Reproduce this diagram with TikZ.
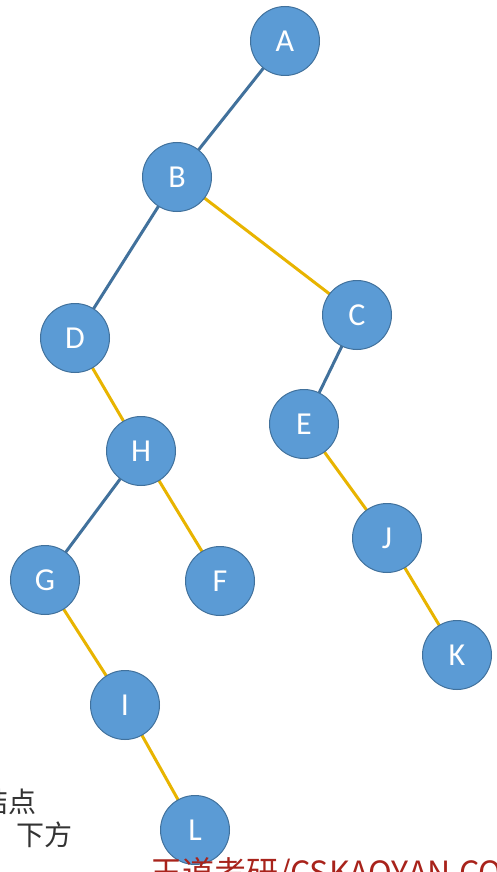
\documentclass[tikz,border=0pt]{standalone}
\usepackage{fontspec}
\setmainfont{Carlito}
\newfontfamily\cjk{Noto Sans CJK SC}
\definecolor{nodefill}{HTML}{5B9BD5}
\definecolor{nodeline}{HTML}{41719C}
\definecolor{blueedge}{HTML}{41719C}
\definecolor{goldedge}{HTML}{E8B400}
\definecolor{wmred}{HTML}{A8231B}
\begin{document}
\begin{tikzpicture}[x=1pt,y=-1pt,
  tnode/.style={circle,fill=nodefill,draw=nodeline,line width=1pt,minimum size=69pt,inner sep=0pt,text=white,font=\fontsize{32}{32}\selectfont},
  bedge/.style={draw=blueedge,line width=3pt},
  gedge/.style={draw=goldedge,line width=3pt}]
\useasboundingbox (0,0) rectangle (496,872);
\clip (0,0) rectangle (496,872);
\fill[white] (0,0) rectangle (496,872);
% edges first
\coordinate (pA) at (285,41);
\coordinate (pB) at (177,177);
\coordinate (pC) at (357,315);
\coordinate (pD) at (75,338);
\coordinate (pE) at (304,424);
\coordinate (pH) at (141,451);
\coordinate (pG) at (45,580);
\coordinate (pF) at (220,581);
\coordinate (pJ) at (387,538);
\coordinate (pK) at (457,655);
\coordinate (pI) at (125,705);
\coordinate (pL) at (195,830);
\draw[bedge] (pA) -- (pB);
\draw[bedge] (pB) -- (pD);
\draw[gedge] (pB) -- (pC);
\draw[bedge] (pC) -- (pE);
\draw[gedge] (pD) -- (pH);
\draw[gedge] (pE) -- (pJ);
\draw[bedge] (pH) -- (pG);
\draw[gedge] (pH) -- (pF);
\draw[gedge] (pJ) -- (pK);
\draw[gedge] (pG) -- (pI);
\draw[gedge] (pI) -- (pL);
% nodes
\node[tnode] (A) at (pA) {A};
\node[tnode] (B) at (pB) {B};
\node[tnode] (C) at (pC) {C};
\node[tnode] (D) at (pD) {D};
\node[tnode] (E) at (pE) {E};
\node[tnode] (H) at (pH) {H};
\node[tnode] (G) at (pG) {G};
\node[tnode] (F) at (pF) {F};
\node[tnode] (J) at (pJ) {J};
\node[tnode] (K) at (pK) {K};
\node[tnode] (I) at (pI) {I};
\node[tnode] (L) at (pL) {L};
% cut-off captions (cut in the reference too)
\node[anchor=west,inner sep=0pt,font=\cjk\fontsize{28}{28}\selectfont,text=black!80] (t1) at (-20,802) {结点};
\node[anchor=west,inner sep=0pt,font=\cjk\fontsize{28}{28}\selectfont,text=black!80] (t2) at (16,835) {下方};
\node[anchor=north west,inner sep=0pt,font=\cjk\fontsize{32}{32}\selectfont,text=wmred] (t3) at (150,857) {王道考研/CSKAOYAN.COM};
\end{tikzpicture}
\end{document}
